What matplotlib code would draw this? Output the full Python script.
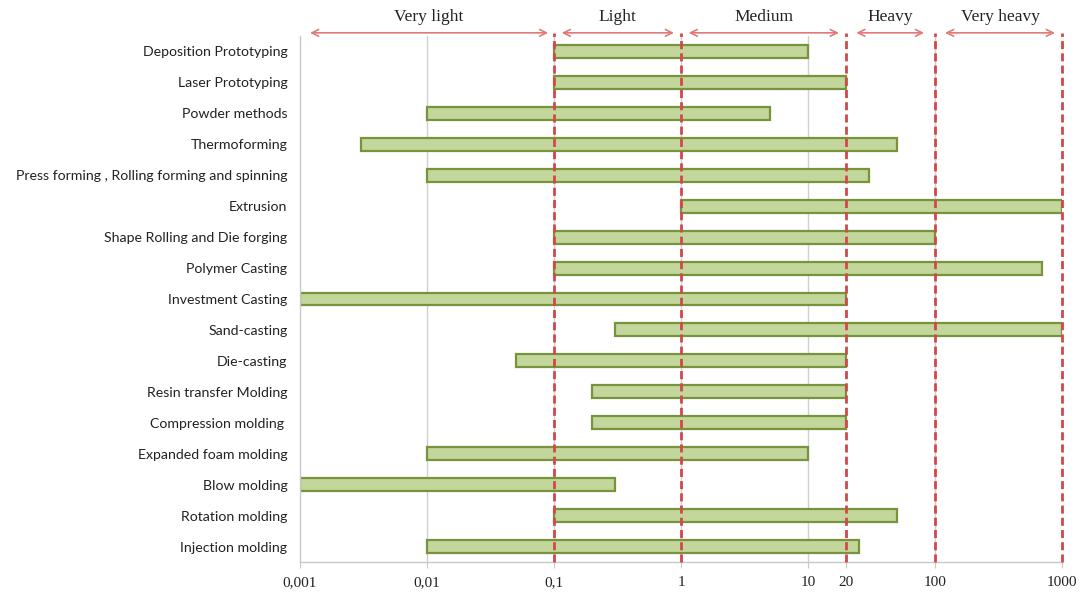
import matplotlib
matplotlib.use("Agg")
import matplotlib.pyplot as plt
import numpy as np

processes = [
    "Deposition Prototyping", "Laser Prototyping", "Powder methods", "Thermoforming",
    "Press forming , Rolling forming and spinning", "Extrusion",
    "Shape Rolling and Die forging", "Polymer Casting", "Investment Casting",
    "Sand-casting", "Die-casting", "Resin transfer Molding", "Compression molding ",
    "Expanded foam molding", "Blow molding", "Rotation molding", "Injection molding",
]
mass_min = [0.1, 0.1, 0.01, 0.003, 0.01, 1, 0.1, 0.1, 0.001, 0.3, 0.05, 0.2, 0.2, 0.01, 0.001, 0.1, 0.01]
mass_max = [10, 20, 5, 50, 30, 1000, 100, 700, 20, 1000, 20, 20, 20, 10, 0.3, 50, 25]

tick_values = [0.001, 0.01, 0.1, 1, 10, 20, 100, 1000]
tick_labels = ["0,001", "0,01", "0,1", "1", "10", "20", "100", "1000"]
grid_values = [0.01, 0.1, 1, 10, 100]
class_bounds = [0.1, 1, 20, 100, 1000]
class_names = ["Very light", "Light", "Medium", "Heavy", "Very heavy"]
class_ranges = [(0.0012, 0.09), (0.115, 0.88), (1.15, 17.5), (24, 82), (120, 880)]

fig = plt.figure(figsize=(10.81, 5.94), dpi=100)
ax = fig.add_axes([300/1081, 1-562/594, 762/1081, 526/594])
ax.set_xscale("log")
ax.set_xlim(0.001, 1000)
ax.set_ylim(len(processes)-0.5, -0.5)

for x in grid_values:
    ax.axvline(x, color="#d0d0d0", lw=1, zorder=0)

y = np.arange(len(processes))
left = np.array(mass_min)
width = np.array(mass_max) - left
ax.barh(y, width, left=left, height=0.42, color="#c3d69b", edgecolor="#77933c",
        linewidth=1.6, zorder=2)

for x in class_bounds:
    ax.plot([x, x], [0, 1.006], transform=ax.get_xaxis_transform(), color="#d2484a",
            lw=2, ls=(0, (2.9, 1.5)), zorder=3, clip_on=False)

for name, (a, b) in zip(class_names, class_ranges):
    ax.annotate("", xy=(a, 1.006), xytext=(b, 1.006), xycoords=("data", "axes fraction"),
                textcoords=("data", "axes fraction"),
                arrowprops=dict(arrowstyle="<->", color="#e07a7a", lw=1.2,
                                shrinkA=0, shrinkB=0, mutation_scale=12))
    xm = np.sqrt(a * b)
    ax.text(xm, 1.036, name, transform=ax.get_xaxis_transform(), ha="center", va="center",
            fontsize=12.5, family="Liberation Serif", color="#222222")

ax.set_yticks(y)
ax.set_yticklabels(processes, fontsize=10.2, family="Lato", color="#222222")
ax.tick_params(axis="y", length=0, pad=9)
ax.set_xticks(tick_values)
ax.set_xticklabels(tick_labels, fontsize=11, family="Liberation Serif", color="#222222")
ax.xaxis.set_minor_locator(matplotlib.ticker.NullLocator())
ax.tick_params(axis="x", length=4, color="#c8c8c8", pad=6)

for s in ["top", "right"]:
    ax.spines[s].set_visible(False)
for s in ["left", "bottom"]:
    ax.spines[s].set_color("#c8c8c8")
    ax.spines[s].set_linewidth(1)

fig.savefig("out.png", dpi=100)
